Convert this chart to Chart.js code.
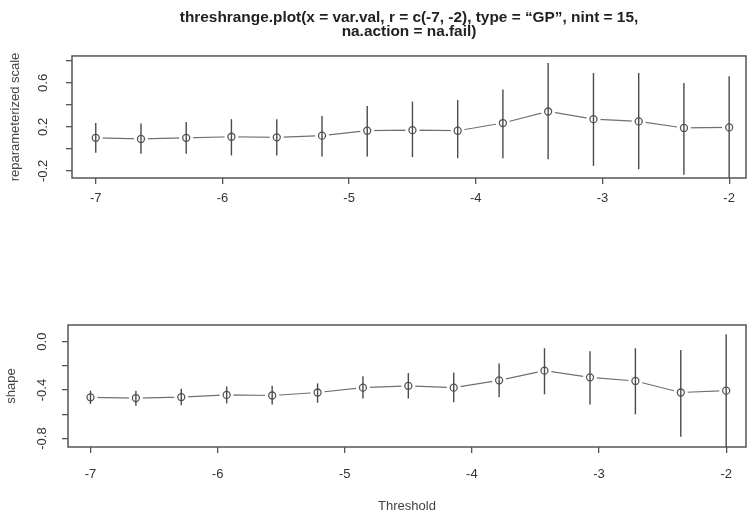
<!DOCTYPE html>
<html>
<head>
<meta charset="utf-8">
<script src="https://cdn.jsdelivr.net/npm/chart.js@4.4.1/dist/chart.umd.min.js"></script>
<style>
  html, body { margin: 0; padding: 0; background: #fff; }
  #wrap { position: relative; width: 753px; height: 517px; }
  canvas { position: absolute; left: 0; }
  #scaleChart { top: 0; }
  #shapeChart { top: 258px; }
</style>
</head>
<body>
<div id="wrap">
  <canvas id="scaleChart" width="753" height="258"></canvas>
  <canvas id="shapeChart" width="753" height="259"></canvas>
</div>
<script>
// thresholds used by threshrange.plot (nint = 15 between -7 and -2)
const thresholds = [-7, -6.643, -6.286, -5.929, -5.571, -5.214, -4.857, -4.5,
                    -4.143, -3.786, -3.429, -3.071, -2.714, -2.357, -2];
const xTicks = [-7, -6, -5, -4, -3, -2];

// reparameterized scale: estimate and interval ends
const scaleEst  = [0.10, 0.09, 0.10, 0.11, 0.105, 0.12, 0.165, 0.17, 0.165, 0.235, 0.34, 0.27, 0.25, 0.19, 0.195];
const scaleLow  = [-0.035, -0.045, -0.045, -0.06, -0.06, -0.07, -0.07, -0.075, -0.085, -0.085, -0.095, -0.155, -0.185, -0.235, -0.28];
const scaleHigh = [0.235, 0.23, 0.245, 0.27, 0.27, 0.30, 0.39, 0.43, 0.445, 0.54, 0.78, 0.69, 0.69, 0.60, 0.66];
const scaleYTicks  = [-0.2, 0, 0.2, 0.4, 0.6, 0.8];
const scaleYLabels = ['-0.2', '', '0.2', '', '0.6', ''];

// shape: estimate and interval ends
const shapeEst  = [-0.46, -0.466, -0.458, -0.44, -0.445, -0.42, -0.38, -0.365, -0.38, -0.32, -0.24, -0.295, -0.325, -0.42, -0.405];
const shapeLow  = [-0.515, -0.53, -0.525, -0.51, -0.52, -0.505, -0.47, -0.47, -0.50, -0.46, -0.435, -0.52, -0.60, -0.785, -0.87];
const shapeHigh = [-0.405, -0.405, -0.39, -0.37, -0.365, -0.345, -0.285, -0.26, -0.255, -0.18, -0.055, -0.08, -0.055, -0.07, 0.06];
const shapeYTicks  = [-0.8, -0.6, -0.4, -0.2, 0];
const shapeYLabels = ['-0.8', '', '-0.4', '', '0.0'];

const FONT = 'Liberation Sans, Arial, sans-serif';

function errorBars(lows, highs) {
  return {
    id: 'errorBars',
    afterDatasetsDraw(chart) {
      const { ctx, chartArea: a, scales: { x, y } } = chart;
      ctx.save();
      ctx.beginPath();
      ctx.rect(a.left, a.top, a.right - a.left, a.bottom - a.top);
      ctx.clip();
      ctx.strokeStyle = '#4a4a4a';
      ctx.lineWidth = 1.4;
      thresholds.forEach((t, i) => {
        const px = x.getPixelForValue(t);
        ctx.beginPath();
        ctx.moveTo(px, y.getPixelForValue(lows[i]));
        ctx.lineTo(px, y.getPixelForValue(highs[i]));
        ctx.stroke();
      });
      ctx.restore();
    }
  };
}

// R style box round the plot region
const box = {
  id: 'box',
  afterDraw(chart) {
    const { ctx, chartArea: a } = chart;
    ctx.save();
    ctx.strokeStyle = '#555';
    ctx.lineWidth = 1.5;
    ctx.strokeRect(a.left, a.top, a.right - a.left, a.bottom - a.top);
    ctx.restore();
  }
};

function makePanel(id, est, low, high, yTicks, yLabels, cfg) {
  const pts = thresholds.map((t, i) => ({ x: t, y: est[i] }));
  return new Chart(document.getElementById(id), {
    type: 'line',
    data: {
      datasets: [
        // open circles (drawn on top)
        { data: pts, showLine: false, pointRadius: 3.5, pointBorderWidth: 1.3,
          pointBorderColor: '#555', pointBackgroundColor: 'rgba(0,0,0,0)' },
        // white gap round each point, like type = "b"
        { data: pts, showLine: false, pointRadius: 7, pointBorderWidth: 0,
          pointBorderColor: '#fff', pointBackgroundColor: '#fff' },
        { data: pts, borderColor: '#707070', borderWidth: 1.2, pointRadius: 0, tension: 0 }
      ]
    },
    options: {
      responsive: false,
      animation: false,
      events: [],
      layout: { padding: cfg.padding },
      plugins: {
        legend: { display: false },
        tooltip: { enabled: false },
        title: cfg.title || { display: false }
      },
      scales: {
        x: {
          type: 'linear',
          min: cfg.xMin, max: cfg.xMax,
          afterBuildTicks: s => { s.ticks = xTicks.map(v => ({ value: v })); },
          afterFit: s => { s.height = cfg.xHeight; },
          grid: { drawOnChartArea: false, tickLength: 6, color: '#555', lineWidth: 1.3 },
          border: { display: false },
          ticks: { padding: cfg.xPad, color: '#333', autoSkip: false, maxRotation: 0,
                   font: { family: FONT, size: 13 }, callback: v => String(v) },
          title: cfg.xTitle || { display: false }
        },
        y: {
          min: cfg.yMin, max: cfg.yMax,
          afterBuildTicks: s => { s.ticks = yTicks.map(v => ({ value: v })); },
          afterFit: s => { s.width = cfg.yWidth; },
          grid: { drawOnChartArea: false, tickLength: 6, color: '#555', lineWidth: 1.3 },
          border: { display: false },
          ticks: { padding: cfg.yPad, color: '#333', autoSkip: false,
                   minRotation: 90, maxRotation: 90, crossAlign: 'center',
                   font: { family: FONT, size: 13 },
                   callback: (v, i) => yLabels[i] },
          title: { display: true, text: cfg.yTitle, color: '#444',
                   font: { family: FONT, size: 13 }, padding: { top: cfg.yTitlePad, bottom: 0 } }
        }
      }
    },
    plugins: [errorBars(low, high), box]
  });
}

makePanel('scaleChart', scaleEst, scaleLow, scaleHigh, scaleYTicks, scaleYLabels, {
  padding: { left: 0, right: 2, top: 0, bottom: 0 },
  xMin: -7.1875, xMax: -1.867, xHeight: 80, xPad: 6.5,
  yMin: -0.265, yMax: 0.845, yWidth: 72, yPad: 11,
  yTitle: 'reparameterized scale', yTitlePad: 8,
  title: {
    display: true, fullSize: false,
    text: ['threshrange.plot(x = var.val, r = c(-7, -2), type = \u201cGP\u201d, nint = 15,',
           'na.action = na.fail)'],
    color: '#222',
    font: { family: FONT, size: 15.4, weight: 'bold', lineHeight: 0.95 },
    padding: { top: 10.2, bottom: 16.5 }
  }
});

makePanel('shapeChart', shapeEst, shapeLow, shapeHigh, shapeYTicks, shapeYLabels, {
  padding: { left: 0, right: 3, top: 67, bottom: 0 },
  xMin: -7.177, xMax: -1.844, xHeight: 70, xPad: 13.5,
  yMin: -0.87, yMax: 0.137, yWidth: 68, yPad: 8,
  yTitle: 'shape', yTitlePad: 4,
  xTitle: { display: true, text: 'Threshold', color: '#444',
            font: { family: FONT, size: 13 }, padding: { top: 0, bottom: 2.5 } }
});
</script>
</body>
</html>
